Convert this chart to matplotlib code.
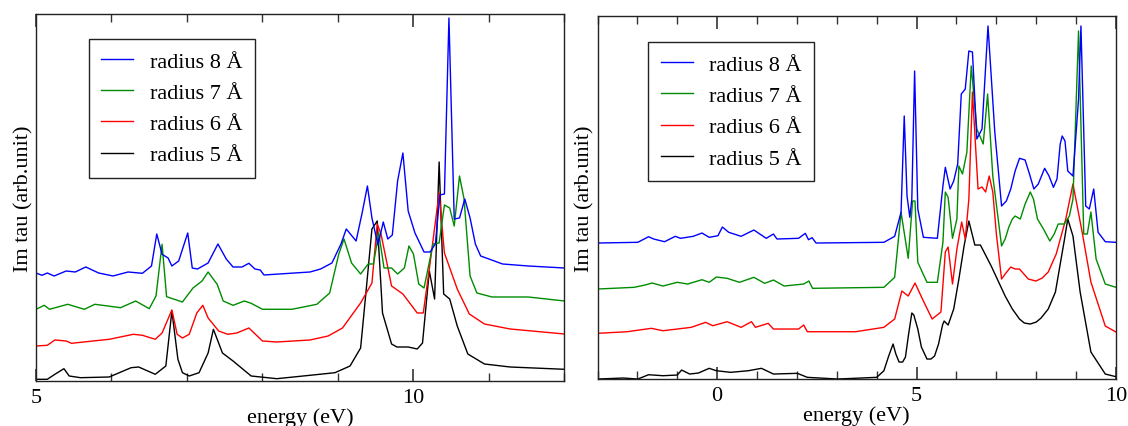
import matplotlib
matplotlib.use("Agg")
import matplotlib.pyplot as plt
from matplotlib.ticker import MultipleLocator

plt.rcParams["font.family"] = ["Liberation Serif", "DejaVu Serif"]

LABELS = ["radius 8 Å", "radius 7 Å", "radius 6 Å", "radius 5 Å"]
COLORS = ["#0000ff", "#008c00", "#ff0000", "#000000"]

# ---- left panel (offset spectra, arb. units) ----
L8_E = [5.0, 5.08, 5.15, 5.24, 5.40, 5.52, 5.66, 5.83, 6.02, 6.22, 6.41, 6.53, 6.60, 6.67, 6.75,
        6.80, 6.89, 7.01, 7.07, 7.14, 7.28, 7.41, 7.52, 7.61, 7.73, 7.82, 7.90, 7.97, 8.02, 8.63,
        8.77, 8.92, 9.04, 9.11, 9.24, 9.32, 9.39, 9.45, 9.53, 9.60, 9.66, 9.72, 9.79, 9.86, 9.93,
        10.02, 10.14, 10.22, 10.29, 10.35, 10.41, 10.47, 10.54, 10.61, 10.68, 10.75, 10.82, 10.89,
        11.18, 11.52, 12.0]
L8_I = [108, 105.7, 108, 105, 110, 109, 114, 108, 105, 109, 107.7, 115, 147, 126.7, 123,
        115, 120, 148, 113, 112, 118, 137, 122, 114, 114, 117.7, 112, 111, 106, 109,
        112, 118, 137, 152, 140, 168, 195, 163, 136, 159, 142, 146, 200, 228, 170,
        148, 129, 129, 137, 186, 187, 363, 162, 163, 182, 163, 137, 125,
        117, 115, 113]

L7_E = [5.0, 5.11, 5.18, 5.42, 5.64, 5.78, 6.12, 6.32, 6.50, 6.59, 6.67, 6.73, 6.94, 7.08, 7.20,
        7.28, 7.40, 7.48, 7.61, 7.76, 7.85, 8.0, 8.39, 8.72, 8.89, 9.01, 9.08, 9.18, 9.30, 9.40,
        9.47, 9.54, 9.61, 9.71, 9.79, 9.88, 9.94, 10.0, 10.07, 10.14, 10.26, 10.34, 10.41, 10.48,
        10.54, 10.61, 10.67, 10.75, 10.84, 11.04, 11.52, 12.0]
L7_I = [71.7, 75.7, 71.7, 76.7, 71.7, 76.7, 73.3, 80, 72.3, 85, 136.7, 84.3, 79, 93, 100,
        109, 96.7, 80, 75.7, 80, 77.7, 71.7, 71.7, 76.7, 88, 126.7, 142, 118, 107, 117,
        117, 148, 113, 113, 107, 113, 135, 127, 97, 93, 137, 138, 176, 173,
        155, 205, 182, 105, 88, 84, 84, 80]

L6_E = [5.0, 5.15, 5.25, 5.40, 5.47, 5.97, 6.29, 6.41, 6.58, 6.67, 6.80, 6.87, 6.94, 7.03, 7.13,
        7.21, 7.28, 7.42, 7.54, 7.66, 7.82, 8.0, 8.19, 8.63, 8.87, 9.06, 9.30, 9.45, 9.52, 9.57,
        9.71, 9.86, 10.05, 10.13, 10.21, 10.34, 10.41, 10.58, 10.74, 10.94, 11.28, 12.0]
L6_I = [35, 35.7, 41, 40, 37.7, 41.7, 46.7, 45.7, 41.7, 48, 71, 46.7, 43, 46.7, 68,
        75.7, 63, 50, 46.7, 48, 53, 40, 39, 41, 45, 53, 78, 98, 157, 147,
        95, 87, 68, 68, 112, 188, 128, 92, 67, 57, 52, 47]

L5_E = [5.0, 5.15, 5.25, 5.37, 5.44, 5.59, 5.97, 6.26, 6.36, 6.58, 6.72, 6.80, 6.88, 6.94, 7.03,
        7.16, 7.28, 7.35, 7.47, 7.61, 7.85, 8.19, 8.63, 8.96, 9.16, 9.30, 9.37, 9.45, 9.52, 9.59,
        9.71, 9.78, 9.93, 10.05, 10.12, 10.21, 10.28, 10.34, 10.40, 10.48, 10.58, 10.72, 10.94,
        11.28, 12.0]
L5_I = [1.7, 1.7, 6.7, 12.3, 5, 3.3, 4, 13.3, 14, 6.7, 15, 70, 21.7, 8.3, 5,
        8.3, 28, 51.7, 28, 20, 5, 2.3, 5.7, 8.3, 15, 33, 88, 152, 160, 68,
        37, 34, 34, 32, 38, 110, 82, 219, 87, 82, 55, 27, 17,
        14, 11.7]

# ---- right panel ----
R8_E = [-3.0, -1.99, -1.72, -1.59, -1.32, -1.05, -0.92, -0.60, -0.38, -0.20, 0.02, 0.13, 0.29,
        0.60, 0.92, 1.23, 1.41, 1.50, 2.04, 2.21, 2.29, 2.38, 2.48, 4.18, 4.45, 4.61, 4.69, 4.76,
        4.83, 4.88, 4.95, 5.03, 5.17, 5.52, 5.66, 5.72, 5.84, 5.93, 6.03, 6.12, 6.22, 6.31, 6.40,
        6.51, 6.64, 6.79, 6.96, 7.13, 7.25, 7.36, 7.47, 7.58, 7.72, 7.83, 7.94, 8.05, 8.21, 8.32,
        8.43, 8.52, 8.60, 8.65, 8.72, 8.79, 8.92, 9.06, 9.12, 9.24, 9.33, 9.44, 9.55, 9.73, 10.0]
R8_I = [136, 136.7, 142.3, 140, 137.3, 142.7, 140.7, 142.7, 146, 141.7, 143.3, 152, 146.7,
        142.7, 149, 140.7, 145, 140, 140.7, 145.7, 139.3, 141.3, 136, 136.7, 142.7, 166.7, 263, 183,
        161.7, 180, 308, 170, 141.7, 140.7, 193, 211.7, 190, 198, 215, 285, 290, 328, 327,
        240, 250, 353, 247, 173, 178, 190, 208, 220.7, 219, 205, 190, 195, 210.7, 203,
        191.7, 200, 235, 243, 238, 208, 203, 280, 353, 173, 170, 190, 146.7, 137.3, 136.7]

R7_E = [-3.0, -2.08, -1.81, -1.63, -1.36, -1.0, -0.74, -0.38, -0.20, -0.02, 0.25, 0.56, 0.92,
        1.19, 1.41, 1.68, 2.17, 2.30, 2.39, 4.18, 4.45, 4.61, 4.79, 4.90, 4.96, 5.03, 5.26, 5.52,
        5.66, 5.72, 5.79, 5.90, 6.01, 6.06, 6.15, 6.26, 6.37, 6.51, 6.67, 6.78, 6.91, 7.13, 7.22,
        7.31, 7.40, 7.47, 7.60, 7.72, 7.85, 7.93, 8.03, 8.18, 8.34, 8.45, 8.55, 8.70, 8.83, 8.92,
        9.06, 9.19, 9.28, 9.37, 9.50, 9.73, 10.0]
R7_I = [90, 91.7, 94, 96, 93, 96.7, 95, 99.3, 96.7, 102, 100.7, 96.7, 101.7,
        95.7, 99, 93, 95, 98, 90.7, 91.7, 101.7, 166.7, 120.7, 178, 178, 116.7, 96.7, 96.7,
        136.7, 187, 181.7, 140.7, 160, 213, 205, 226.7, 313, 250, 235, 285, 203, 133, 140,
        151.7, 160, 163, 160, 175, 187, 180, 160, 150, 138, 145, 155, 155, 163, 180,
        348, 145, 145, 167, 120, 95, 91.7]

R6_E = [-3.0, -2.26, -1.90, -1.65, -1.36, -1.0, -0.65, -0.29, -0.11, 0.25, 0.60, 0.86, 0.96,
        1.28, 1.41, 2.04, 2.17, 2.26, 3.47, 4.18, 4.45, 4.63, 4.79, 4.96, 5.17, 5.39, 5.61, 5.72,
        5.79, 5.90, 6.01, 6.13, 6.22, 6.31, 6.40, 6.54, 6.64, 6.73, 6.82, 6.91, 7.0, 7.13, 7.22,
        7.36, 7.47, 7.58, 7.80, 7.99, 8.15, 8.30, 8.50, 8.74, 8.92, 9.15, 9.37, 9.73, 10.0]
R6_I = [45.7, 47.3, 49.3, 50.7, 48.3, 50, 51.7, 56.7, 53.3, 57.3, 51.7, 57.3, 51.7,
        55.7, 50, 50, 54, 47.3, 47.3, 51.7, 60, 88, 83, 96, 78, 60, 67, 127,
        132, 95, 130, 157, 140, 180, 287, 190, 192, 187, 203, 187, 145, 100, 105,
        112, 110, 110, 100, 98, 101, 107, 125, 160, 195, 147, 97, 53, 47]

R5_E = [-3.0, -2.35, -1.99, -1.72, -1.36, -1.0, -0.89, -0.69, -0.47, -0.20, -0.02, 0.34, 0.78,
        1.11, 1.41, 2.01, 2.26, 3.02, 4.0, 4.18, 4.30, 4.41, 4.48, 4.56, 4.65, 4.72, 4.80, 4.88,
        4.93, 5.03, 5.12, 5.26, 5.36, 5.45, 5.55, 5.65, 5.69, 5.79, 5.93, 6.06, 6.19, 6.31, 6.46,
        6.60, 6.87, 7.22, 7.40, 7.58, 7.70, 7.85, 8.0, 8.12, 8.30, 8.48, 8.70, 8.79, 8.92, 9.10,
        9.37, 9.73, 10.0]
R5_I = [0, 1, 0, 4.3, 3.3, 4, 9, 5, 6, 10.7, 8.3, 6.7, 8.3,
        10.7, 5, 5.7, 1.7, 0, 1.7, 8.3, 23, 35, 25, 17, 17, 22, 45, 66,
        64, 50, 32, 20, 20, 23, 35, 54, 58, 54, 70, 100, 133, 158, 134,
        134, 113, 83, 70, 60, 56, 55, 57, 61, 70, 87, 138, 160, 143, 87,
        27, 5, 2.3]

left_series = [(L8_E, L8_I), (L7_E, L7_I), (L6_E, L6_I), (L5_E, L5_I)]
right_series = [(R8_E, R8_I), (R7_E, R7_I), (R6_E, R6_I), (R5_E, R5_I)]

fig = plt.figure(figsize=(11.28, 4.27), dpi=100)
ax1 = fig.add_axes([0.0319, 0.1054, 0.4685, 0.8595])
ax2 = fig.add_axes([0.5297, 0.1100, 0.4597, 0.8502])


def style_ax(ax, xlim, ylim, major):
    ax.set_xlim(*xlim)
    ax.set_ylim(*ylim)
    ax.xaxis.set_major_locator(MultipleLocator(major))
    ax.xaxis.set_minor_locator(MultipleLocator(1))
    ax.set_yticks([])
    ax.tick_params(axis="x", which="both", direction="in", top=True, bottom=True,
                   color="#333333", labelsize=16, pad=5)
    ax.tick_params(axis="x", which="major", length=9, width=1.2)
    ax.tick_params(axis="x", which="minor", length=6, width=1.0)
    for spine in ax.spines.values():
        spine.set_color("#222222")
        spine.set_linewidth(1.0)
    ax.set_xlabel("energy (eV)", fontsize=16, labelpad=0)
    ax.set_ylabel("Im tau (arb.unit)", fontsize=16, labelpad=2)


for ax, series in [(ax1, left_series), (ax2, right_series)]:
    handles = []
    for (e, i), lab, col in reversed(list(zip(series, LABELS, COLORS))):
        h, = ax.plot(e, i, color=col, lw=1.0, label=lab)
        handles.append(h)
    handles = handles[::-1]
    leg = ax.legend(handles=handles, loc="upper left", fontsize=16, frameon=True,
                    fancybox=False, framealpha=1, edgecolor="#222222",
                    handlelength=1.45, handletextpad=0.75, labelspacing=0.48,
                    borderpad=0.55, borderaxespad=0)
    leg.get_frame().set_linewidth(1.0)
    if ax is ax1:
        leg.set_bbox_to_anchor((0.100, 0.932))
    else:
        leg.set_bbox_to_anchor((0.098, 0.928))

style_ax(ax1, (5, 12), (0, 367), 5)
style_ax(ax2, (-3, 10), (0, 363), 5)

plt.savefig("out.png", dpi=100)
